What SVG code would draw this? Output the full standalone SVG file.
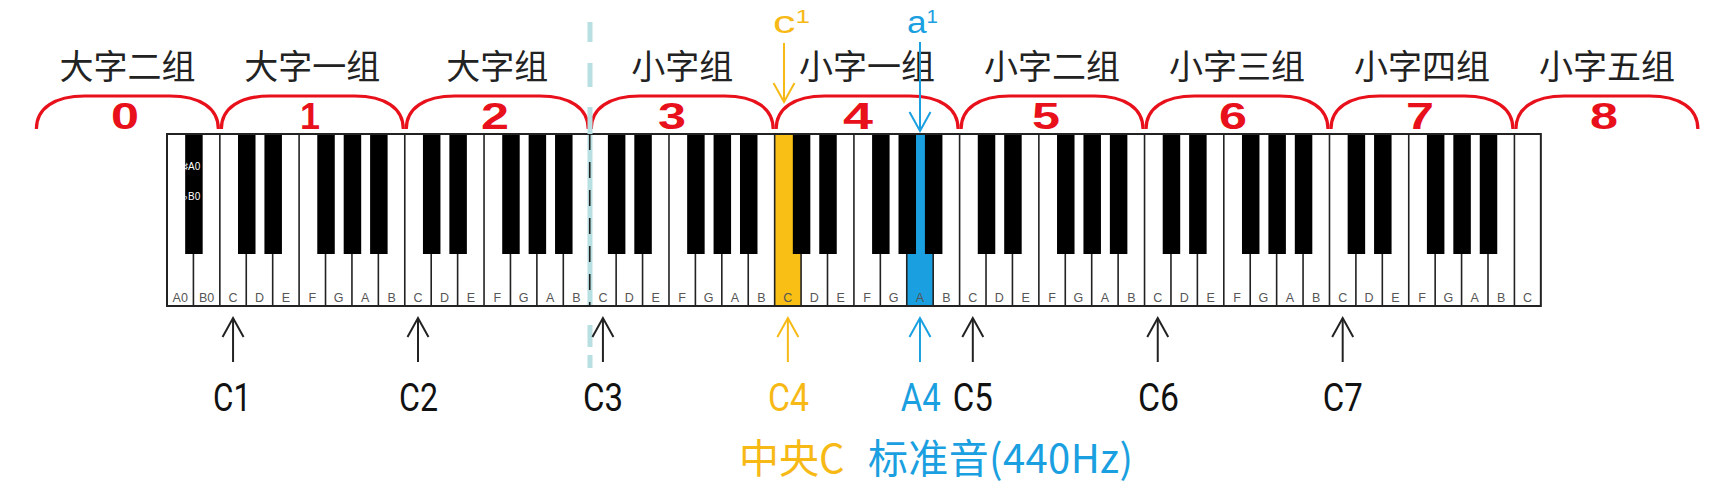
<svg xmlns="http://www.w3.org/2000/svg" xmlns:xlink="http://www.w3.org/1999/xlink" width="1710" height="491" viewBox="0 0 1710 491">
<style>
.grp{font-family:"Noto Sans CJK SC","Noto Sans",sans-serif;font-size:34px;fill:#222;text-anchor:middle}
.num{font-family:"Liberation Sans",Arial,sans-serif;font-weight:bold;font-size:36px;fill:#e8101a;text-anchor:middle}
.brk{fill:none;stroke:#e8101a;stroke-width:3.2}
.wk{fill:#fff}
.bk{fill:#000}
.sep{fill:none;stroke:#222;stroke-width:1.6}
.kl{font-family:"Liberation Sans",Arial,sans-serif;font-size:12.5px;fill:#555;text-anchor:middle}
.cl{font-family:Roboto,"Liberation Sans",sans-serif;font-size:38px;text-anchor:middle}
.ar{fill:none;stroke-width:2}
.sup{font-family:"Liberation Sans",Arial,sans-serif}
.cjk{font-family:"Noto Sans CJK SC","Noto Sans",sans-serif;font-size:40px}
</style>
<defs>
<path id="bracket" class="brk" d="M1.5,129 C1.5,108 20,96 50,96 H134.94 C164.94,96 183.44,108 183.44,129"/>
<marker id="hK" markerUnits="userSpaceOnUse" markerWidth="24" markerHeight="26" refX="20" refY="11.5" orient="auto" overflow="visible"><path d="M1,1 L20,11.5 L1,22" fill="none" stroke="#222" stroke-width="2"/></marker>
<marker id="hY" markerUnits="userSpaceOnUse" markerWidth="24" markerHeight="26" refX="20" refY="11.5" orient="auto" overflow="visible"><path d="M1,1 L20,11.5 L1,22" fill="none" stroke="#f7b916" stroke-width="2"/></marker>
<marker id="hB" markerUnits="userSpaceOnUse" markerWidth="24" markerHeight="26" refX="20" refY="11.5" orient="auto" overflow="visible"><path d="M1,1 L20,11.5 L1,22" fill="none" stroke="#1a9fe0" stroke-width="2"/></marker>
</defs>

<g id="group-labels">
<text class="grp" x="127.4" y="79">大字二组</text>
<text class="grp" x="312.3" y="79">大字一组</text>
<text class="grp" x="497.3" y="79">大字组</text>
<text class="grp" x="682.2" y="79">小字组</text>
<text class="grp" x="867.1" y="79">小字一组</text>
<text class="grp" x="1052.1" y="79">小字二组</text>
<text class="grp" x="1237" y="79">小字三组</text>
<text class="grp" x="1422" y="79">小字四组</text>
<text class="grp" x="1606.9" y="79">小字五组</text>
</g>

<g id="octave-brackets">
<use xlink:href="#bracket" x="34.9"/>
<use xlink:href="#bracket" x="219.84"/>
<use xlink:href="#bracket" x="404.78"/>
<use xlink:href="#bracket" x="589.72"/>
<use xlink:href="#bracket" x="774.66"/>
<use xlink:href="#bracket" x="959.6"/>
<use xlink:href="#bracket" x="1144.54"/>
<use xlink:href="#bracket" x="1329.48"/>
<use xlink:href="#bracket" x="1514.42"/>
<text class="num" x="125" y="129" textLength="28" lengthAdjust="spacingAndGlyphs">0</text>
<text class="num" x="310" y="129">1</text>
<text class="num" x="495" y="129" textLength="28" lengthAdjust="spacingAndGlyphs">2</text>
<text class="num" x="672" y="129" textLength="28" lengthAdjust="spacingAndGlyphs">3</text>
<text class="num" x="858" y="129" textLength="30" lengthAdjust="spacingAndGlyphs">4</text>
<text class="num" x="1046" y="129" textLength="28" lengthAdjust="spacingAndGlyphs">5</text>
<text class="num" x="1233" y="129" textLength="28" lengthAdjust="spacingAndGlyphs">6</text>
<text class="num" x="1420" y="129" textLength="28" lengthAdjust="spacingAndGlyphs">7</text>
<text class="num" x="1604" y="129" textLength="28" lengthAdjust="spacingAndGlyphs">8</text>
</g>

<g id="keyboard">
<rect class="wk" x="167" y="134" width="1373.84" height="172"/>
<rect id="key-C4" x="774.66" y="134" width="26.42" height="172" fill="#f9bf15"/>
<rect id="key-A4" x="906.76" y="134" width="26.42" height="172" fill="#1a9fe0"/>
<rect x="587.5" y="134" width="5" height="172" fill="#b8dfe2"/>
<path class="sep" d="M193.42,134V306M219.84,134V306M246.26,134V306M272.68,134V306M299.1,134V306M325.52,134V306M351.94,134V306M378.36,134V306M404.78,134V306M431.2,134V306M457.62,134V306M484.04,134V306M510.46,134V306M536.88,134V306M563.3,134V306M616.14,134V306M642.56,134V306M668.98,134V306M695.4,134V306M721.82,134V306M748.24,134V306M774.66,134V306M801.08,134V306M827.5,134V306M853.92,134V306M880.34,134V306M906.76,134V306M933.18,134V306M959.6,134V306M986.02,134V306M1012.44,134V306M1038.86,134V306M1065.28,134V306M1091.7,134V306M1118.12,134V306M1144.54,134V306M1170.96,134V306M1197.38,134V306M1223.8,134V306M1250.22,134V306M1276.64,134V306M1303.06,134V306M1329.48,134V306M1355.9,134V306M1382.32,134V306M1408.74,134V306M1435.16,134V306M1461.58,134V306M1488,134V306M1514.42,134V306"/>
<path d="M589.72,134V306" fill="none" stroke="#222" stroke-width="1.6" stroke-dasharray="16 12"/>
<g id="black-keys">
<rect class="bk" x="185.17" y="134" width="17.5" height="120"/>
<rect class="bk" x="238.01" y="134" width="17.5" height="120"/>
<rect class="bk" x="264.43" y="134" width="17.5" height="120"/>
<rect class="bk" x="317.27" y="134" width="17.5" height="120"/>
<rect class="bk" x="343.69" y="134" width="17.5" height="120"/>
<rect class="bk" x="370.11" y="134" width="17.5" height="120"/>
<rect class="bk" x="422.95" y="134" width="17.5" height="120"/>
<rect class="bk" x="449.37" y="134" width="17.5" height="120"/>
<rect class="bk" x="502.21" y="134" width="17.5" height="120"/>
<rect class="bk" x="528.63" y="134" width="17.5" height="120"/>
<rect class="bk" x="555.05" y="134" width="17.5" height="120"/>
<rect class="bk" x="607.89" y="134" width="17.5" height="120"/>
<rect class="bk" x="634.31" y="134" width="17.5" height="120"/>
<rect class="bk" x="687.15" y="134" width="17.5" height="120"/>
<rect class="bk" x="713.57" y="134" width="17.5" height="120"/>
<rect class="bk" x="739.99" y="134" width="17.5" height="120"/>
<rect class="bk" x="792.83" y="134" width="17.5" height="120"/>
<rect class="bk" x="819.25" y="134" width="17.5" height="120"/>
<rect class="bk" x="872.09" y="134" width="17.5" height="120"/>
<rect class="bk" x="898.51" y="134" width="17.5" height="120"/>
<rect class="bk" x="924.93" y="134" width="17.5" height="120"/>
<rect class="bk" x="977.77" y="134" width="17.5" height="120"/>
<rect class="bk" x="1004.19" y="134" width="17.5" height="120"/>
<rect class="bk" x="1057.03" y="134" width="17.5" height="120"/>
<rect class="bk" x="1083.45" y="134" width="17.5" height="120"/>
<rect class="bk" x="1109.87" y="134" width="17.5" height="120"/>
<rect class="bk" x="1162.71" y="134" width="17.5" height="120"/>
<rect class="bk" x="1189.13" y="134" width="17.5" height="120"/>
<rect class="bk" x="1241.97" y="134" width="17.5" height="120"/>
<rect class="bk" x="1268.39" y="134" width="17.5" height="120"/>
<rect class="bk" x="1294.81" y="134" width="17.5" height="120"/>
<rect class="bk" x="1347.65" y="134" width="17.5" height="120"/>
<rect class="bk" x="1374.07" y="134" width="17.5" height="120"/>
<rect class="bk" x="1426.91" y="134" width="17.5" height="120"/>
<rect class="bk" x="1453.33" y="134" width="17.5" height="120"/>
<rect class="bk" x="1479.75" y="134" width="17.5" height="120"/>
</g>
<text x="183" y="170" font-family="Liberation Sans,Arial,sans-serif" font-size="10" fill="#fff">♯A0</text>
<text x="183" y="200" font-family="Liberation Sans,Arial,sans-serif" font-size="10" fill="#fff">♭B0</text>
<rect x="167" y="134" width="1373.84" height="172" fill="none" stroke="#222" stroke-width="2"/>
<g id="key-labels">
<text class="kl" x="180.21" y="302" font-size="11">A0</text>
<text class="kl" x="206.63" y="302" font-size="11">B0</text>
<text class="kl" x="233.05" y="302">C</text><text class="kl" x="259.47" y="302">D</text><text class="kl" x="285.89" y="302">E</text><text class="kl" x="312.31" y="302">F</text><text class="kl" x="338.73" y="302">G</text><text class="kl" x="365.15" y="302">A</text><text class="kl" x="391.57" y="302">B</text>
<text class="kl" x="417.99" y="302">C</text><text class="kl" x="444.41" y="302">D</text><text class="kl" x="470.83" y="302">E</text><text class="kl" x="497.25" y="302">F</text><text class="kl" x="523.67" y="302">G</text><text class="kl" x="550.09" y="302">A</text><text class="kl" x="576.51" y="302">B</text>
<text class="kl" x="602.93" y="302">C</text><text class="kl" x="629.35" y="302">D</text><text class="kl" x="655.77" y="302">E</text><text class="kl" x="682.19" y="302">F</text><text class="kl" x="708.61" y="302">G</text><text class="kl" x="735.03" y="302">A</text><text class="kl" x="761.45" y="302">B</text>
<text class="kl" x="787.87" y="302">C</text><text class="kl" x="814.29" y="302">D</text><text class="kl" x="840.71" y="302">E</text><text class="kl" x="867.13" y="302">F</text><text class="kl" x="893.55" y="302">G</text><text class="kl" x="919.97" y="302">A</text><text class="kl" x="946.39" y="302">B</text>
<text class="kl" x="972.81" y="302">C</text><text class="kl" x="999.23" y="302">D</text><text class="kl" x="1025.65" y="302">E</text><text class="kl" x="1052.07" y="302">F</text><text class="kl" x="1078.49" y="302">G</text><text class="kl" x="1104.91" y="302">A</text><text class="kl" x="1131.33" y="302">B</text>
<text class="kl" x="1157.75" y="302">C</text><text class="kl" x="1184.17" y="302">D</text><text class="kl" x="1210.59" y="302">E</text><text class="kl" x="1237.01" y="302">F</text><text class="kl" x="1263.43" y="302">G</text><text class="kl" x="1289.85" y="302">A</text><text class="kl" x="1316.27" y="302">B</text>
<text class="kl" x="1342.69" y="302">C</text><text class="kl" x="1369.11" y="302">D</text><text class="kl" x="1395.53" y="302">E</text><text class="kl" x="1421.95" y="302">F</text><text class="kl" x="1448.37" y="302">G</text><text class="kl" x="1474.79" y="302">A</text><text class="kl" x="1501.21" y="302">B</text>
<text class="kl" x="1527.63" y="302">C</text>
</g>
</g>

<g id="divider">
<path d="M590,22V42M590,63V87M590,107V134M590,325V347M590,355V368" fill="none" stroke="#b8dfe2" stroke-width="5"/>
</g>

<g id="pitch-names">
<text x="773" y="33" class="sup" font-size="31" fill="#f7b916" textLength="37" lengthAdjust="spacingAndGlyphs">c<tspan font-size="18" dy="-10">1</tspan></text>
<text x="907" y="33" class="sup" font-size="31" fill="#1a9fe0" textLength="31" lengthAdjust="spacingAndGlyphs">a<tspan font-size="18" dy="-10">1</tspan></text>
</g>

<g id="connectors">
<path class="ar" stroke="#f7b916" marker-end="url(#hY)" d="M784,43V102"/>
<path class="ar" stroke="#1a9fe0" marker-end="url(#hB)" d="M920,42V131"/>
<path class="ar" stroke="#222" marker-end="url(#hK)" d="M233.05,362V318"/>
<path class="ar" stroke="#222" marker-end="url(#hK)" d="M417.99,362V318"/>
<path class="ar" stroke="#222" marker-end="url(#hK)" d="M602.93,362V318"/>
<path class="ar" stroke="#f7b916" marker-end="url(#hY)" d="M787.87,362V318"/>
<path class="ar" stroke="#1a9fe0" marker-end="url(#hB)" d="M919.97,362V318"/>
<path class="ar" stroke="#222" marker-end="url(#hK)" d="M972.81,362V318"/>
<path class="ar" stroke="#222" marker-end="url(#hK)" d="M1157.75,362V318"/>
<path class="ar" stroke="#222" marker-end="url(#hK)" d="M1342.69,362V318"/>
</g>

<g id="c-labels">
<text class="cl" x="232" y="411" fill="#111" textLength="38" lengthAdjust="spacingAndGlyphs">C1</text>
<text class="cl" x="418.5" y="411" fill="#111" textLength="39" lengthAdjust="spacingAndGlyphs">C2</text>
<text class="cl" x="603" y="411" fill="#111" textLength="40" lengthAdjust="spacingAndGlyphs">C3</text>
<text class="cl" x="788.5" y="411" fill="#f7b916" textLength="41" lengthAdjust="spacingAndGlyphs">C4</text>
<text class="cl" x="920.7" y="411" fill="#1a9fe0" textLength="40" lengthAdjust="spacingAndGlyphs">A4</text>
<text class="cl" x="972.7" y="411" fill="#111" textLength="40" lengthAdjust="spacingAndGlyphs">C5</text>
<text class="cl" x="1158.5" y="411" fill="#111" textLength="41" lengthAdjust="spacingAndGlyphs">C6</text>
<text class="cl" x="1342.7" y="411" fill="#111" textLength="40" lengthAdjust="spacingAndGlyphs">C7</text>
</g>

<g id="notes">
<text class="cjk" x="739" y="473" fill="#f7b916">中央C</text>
<text class="cjk" x="868" y="473" fill="#1a9fe0" textLength="265" lengthAdjust="spacing">标准音(440Hz)</text>
</g>
</svg>
